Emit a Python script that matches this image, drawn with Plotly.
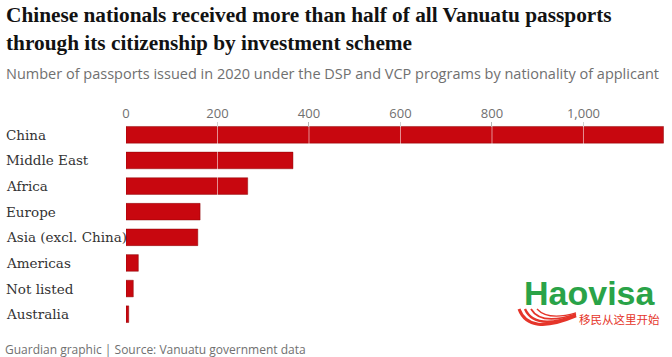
import plotly.graph_objects as go

# ---- data ----
categories = ["China", "Middle East", "Africa", "Europe", "Asia (excl. China)",
              "Americas", "Not listed", "Australia"]
passports = [1175, 365, 266, 162, 157, 27, 16, 6]
tick_values = [0, 200, 400, 600, 800, 1000]
tick_labels = ["0", "200", "400", "600", "800", "1,000"]
x_max = 1176

title_text = ("Chinese nationals received more than half of all Vanuatu passports<br>"
              "through its citizenship by investment scheme")
subtitle_text = ("Number of passports issued in 2020 under the DSP and VCP programs "
                 "by nationality of applicant")
footer_text = "Guardian graphic | Source: Vanuatu government data"

# ---- layout geometry (pixels) ----
W, H = 672, 357
L, R, T, B = 126, 8, 122, 30
PW, PH = W - L - R, H - T - B


def px(X):
    return (X - L) / PW


def py(Y):
    return (H - B - Y) / PH


fig = go.Figure()
fig.add_trace(go.Bar(
    y=categories, x=passports, orientation="h",
    marker=dict(color="#c8070f", line=dict(color="rgba(130,0,0,0.55)", width=0.8)),
    hoverinfo="x+y",
))

annotations = []
# category labels, left-aligned
for c in categories:
    annotations.append(dict(
        x=px(4), xref="paper", y=c, yref="y", text=c, showarrow=False,
        xanchor="left", yanchor="middle",
        font=dict(family="DejaVu Serif", size=13.5, color="#333333")))

annotations.append(dict(
    x=px(4), xref="paper", y=py(1), yref="paper", text=title_text, showarrow=False,
    xanchor="left", yanchor="top", align="left",
    font=dict(family="Liberation Serif", size=21.3, color="#121212", weight="bold")))
annotations.append(dict(
    x=px(4), xref="paper", y=py(73), yref="paper", text=subtitle_text, showarrow=False,
    xanchor="left", yanchor="middle", align="left",
    font=dict(family="Open Sans", size=14.5, color="#707070")))
annotations.append(dict(
    x=px(3), xref="paper", y=py(349), yref="paper", text=footer_text, showarrow=False,
    xanchor="left", yanchor="middle", align="left",
    font=dict(family="Open Sans", size=12, color="#707070")))

# watermark
annotations.append(dict(
    x=px(589), xref="paper", y=py(293), yref="paper", text="Haovisa", showarrow=False,
    xanchor="center", yanchor="middle",
    font=dict(family="Liberation Sans", size=34, color="#2aa348", weight="bold")))
annotations.append(dict(
    x=px(577), xref="paper", y=py(319), yref="paper", text="移民从这里开始", showarrow=False,
    xanchor="left", yanchor="middle",
    font=dict(family="Noto Sans CJK SC", size=11.5, color="#e5352a")))

shapes = []
# gridlines drawn above the bars (white, translucent)
for v in tick_values[1:]:
    shapes.append(dict(type="line", xref="x", yref="paper", x0=v, x1=v, y0=0, y1=1,
                       line=dict(color="rgba(255,255,255,0.55)", width=1), layer="above"))

# watermark swoosh arcs (pixel control points)
swoosh = [((519, 309), (529, 336), (576, 316), 3.0),
          ((525, 309), (535, 331), (576, 315), 2.4),
          ((531, 309), (541, 326), (576, 314), 1.8),
          ((537, 309), (548, 321), (576, 313), 1.3)]
for (a, c, e, w) in swoosh:
    path = "M {:.4f} {:.4f} Q {:.4f} {:.4f} {:.4f} {:.4f}".format(
        px(a[0]), py(a[1]), px(c[0]), py(c[1]), px(e[0]), py(e[1]))
    shapes.append(dict(type="path", xref="paper", yref="paper", path=path,
                       line=dict(color="#e5352a", width=w)))

fig.update_layout(
    width=W, height=H,
    margin=dict(l=L, r=R, t=T, b=B, pad=0),
    paper_bgcolor="white", plot_bgcolor="white",
    showlegend=False, bargap=0.35,
    annotations=annotations, shapes=shapes,
    xaxis=dict(side="top", range=[0, x_max], tickvals=tick_values, ticktext=tick_labels,
               ticks="inside", ticklen=5, tickcolor="#9a9a9a", tickwidth=1,
               showgrid=False, zeroline=False, showline=False,
               tickfont=dict(family="Open Sans", size=13, color="#707070"),
               fixedrange=True),
    yaxis=dict(categoryorder="array", categoryarray=categories, autorange="reversed",
               showticklabels=False, showgrid=False, zeroline=False, showline=False,
               ticks="", fixedrange=True),
)

fig.write_html("out.html",
               config={"displayModeBar": False},
               post_script="document.body.style.margin='0';document.body.style.overflow='hidden';")
